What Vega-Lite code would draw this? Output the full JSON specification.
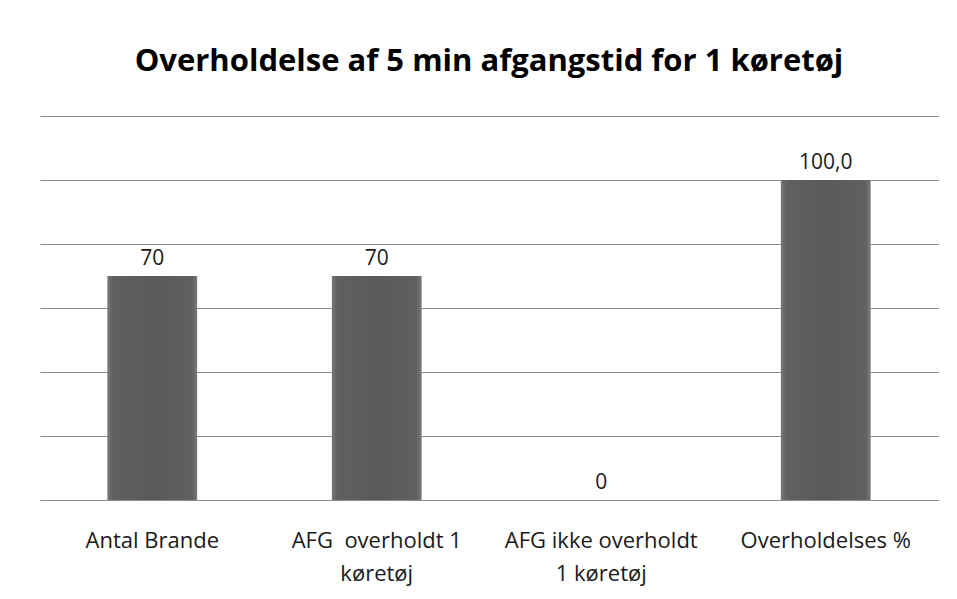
{
  "$schema": "https://vega.github.io/schema/vega-lite/v6.json",
  "width": 898,
  "height": 384,
  "autosize": {"type": "none"},
  "padding": {"left": 40, "top": 116, "right": 19, "bottom": 99},
  "background": "white",
  "title": {
    "text": "Overholdelse af 5 min afgangstid for 1 køretøj",
    "font": "Open Sans",
    "fontSize": 31,
    "fontWeight": "bold",
    "color": "#000000",
    "anchor": "middle",
    "baseline": "alphabetic",
    "offset": 14
  },
  "data": {
    "values": [
      {"kategori": "Antal Brande", "vaerdi": 70, "tekst": "70"},
      {"kategori": "AFG\u00a0 overholdt 1\nkøretøj", "vaerdi": 70, "tekst": "70"},
      {"kategori": "AFG ikke overholdt\n1 køretøj", "vaerdi": 0, "tekst": "0"},
      {"kategori": "Overholdelses %", "vaerdi": 100, "tekst": "100,0"}
    ]
  },
  "encoding": {
    "x": {
      "field": "kategori",
      "type": "nominal",
      "sort": null,
      "scale": {"paddingInner": 0.6, "paddingOuter": 0.3},
      "axis": {
        "title": null,
        "labelAngle": 0,
        "labelExpr": "split(datum.label, '\\n')",
        "labelFont": "Open Sans",
        "labelFontSize": 22,
        "labelColor": "#1a1a1a",
        "labelLineHeight": 33,
        "labelPadding": 40,
        "labelBaseline": "middle",
        "ticks": false,
        "domainColor": "#8c8c8c",
        "domainWidth": 1,
        "labelLimit": 300
      }
    },
    "y": {
      "field": "vaerdi",
      "type": "quantitative",
      "scale": {"domain": [0, 120], "nice": false},
      "axis": {
        "title": null,
        "labels": false,
        "ticks": false,
        "domain": false,
        "values": [0, 20, 40, 60, 80, 100, 120],
        "grid": true,
        "gridColor": "#8c8c8c",
        "gridWidth": 1
      }
    }
  },
  "layer": [
    {
      "mark": {
        "type": "bar",
        "color": {
          "gradient": "linear",
          "x1": 0, "x2": 1, "y1": 0, "y2": 0,
          "stops": [
            {"offset": 0, "color": "#7a7a7a"},
            {"offset": 0.06, "color": "#606060"},
            {"offset": 0.5, "color": "#5a5a5a"},
            {"offset": 0.94, "color": "#606060"},
            {"offset": 1, "color": "#7a7a7a"}
          ]
        }
      }
    },
    {
      "mark": {
        "type": "text",
        "dy": -7,
        "baseline": "bottom",
        "font": "Open Sans",
        "fontSize": 21,
        "color": "#1a1a1a"
      },
      "encoding": {"text": {"field": "tekst"}}
    }
  ],
  "config": {"view": {"stroke": null}}
}
